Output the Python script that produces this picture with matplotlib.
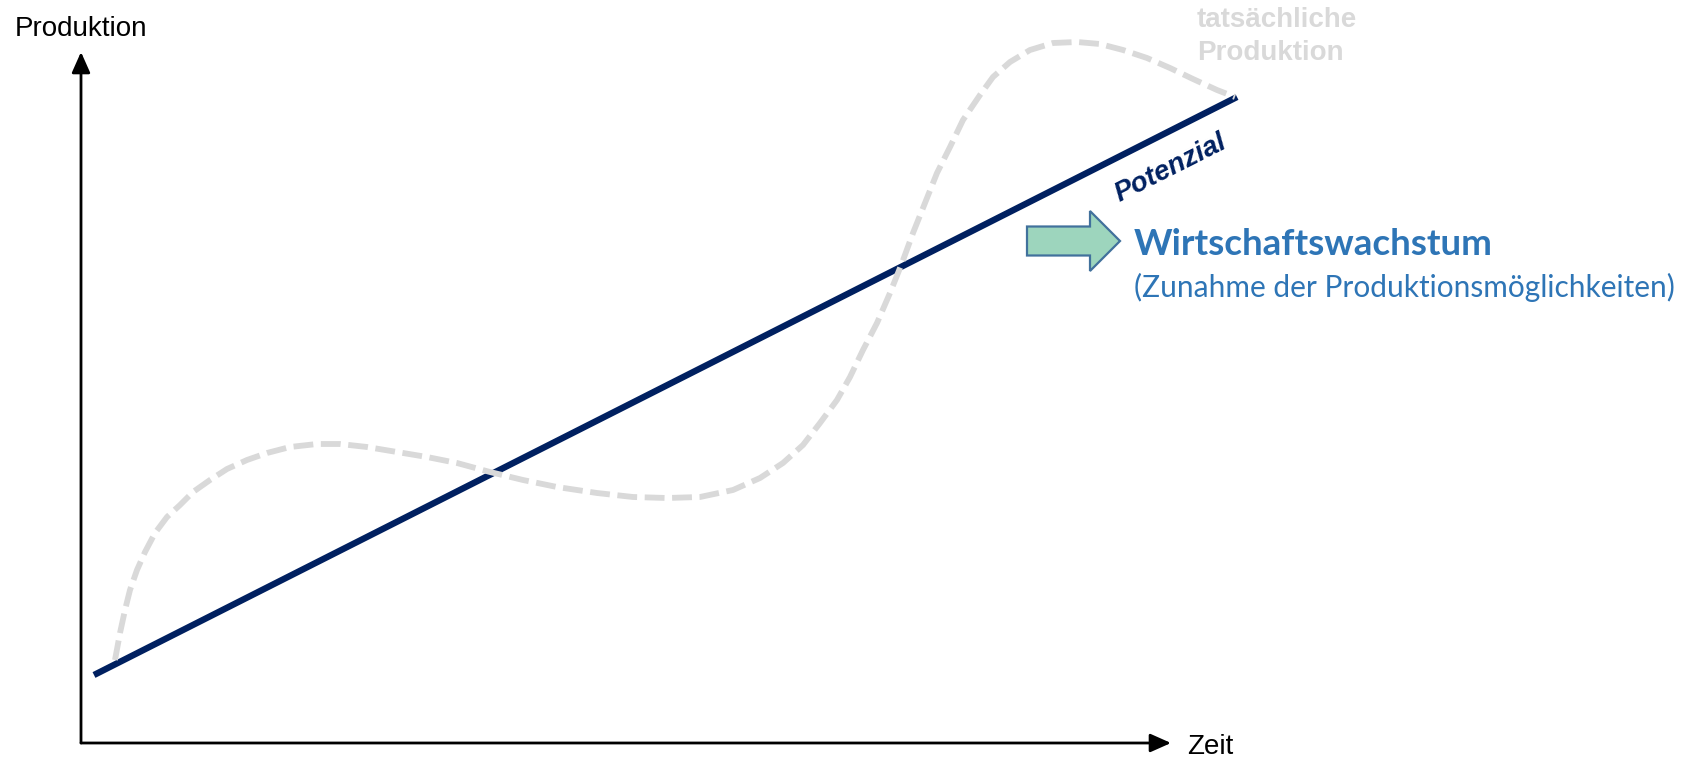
import matplotlib
matplotlib.use("Agg")
import matplotlib.pyplot as plt
import matplotlib.patches as mpatches
import numpy as np

# ---------------- data (units: 1 unit = 100 px of the reference) ----------------
# actual production (dashed grey curve)
zeit_tats = [0.34, 0.39, 0.44, 0.49, 0.56, 0.64, 0.74, 0.86, 0.99, 1.12,
             1.29, 1.46, 1.66, 1.86, 2.09, 2.36, 2.59, 2.86, 3.16, 3.46,
             3.76, 4.09, 4.42, 4.76, 5.16, 5.52, 5.86, 6.19, 6.52, 6.79,
             7.02, 7.22, 7.39, 7.56, 7.69, 7.82, 7.96, 8.09, 8.21, 8.32,
             8.44, 8.56, 8.69, 8.82, 8.99, 9.12, 9.29, 9.49, 9.72, 9.96,
             10.19, 10.42, 10.66, 10.89, 11.12, 11.36, 11.54]
prod_tats = [0.83, 1.10, 1.33, 1.53, 1.73, 1.91, 2.10, 2.26, 2.38, 2.51,
             2.63, 2.74, 2.83, 2.90, 2.96, 2.99, 2.99, 2.96, 2.91, 2.86,
             2.80, 2.71, 2.63, 2.56, 2.50, 2.46, 2.45, 2.46, 2.53, 2.65,
             2.80, 2.98, 3.20, 3.43, 3.66, 3.93, 4.20, 4.50, 4.80, 5.10,
             5.40, 5.70, 5.96, 6.23, 6.48, 6.66, 6.81, 6.93, 7.00, 7.01,
             6.99, 6.93, 6.85, 6.75, 6.64, 6.53, 6.46]
# potential output (straight navy line)
zeit_pot = [0.13, 11.56]
prod_pot = [0.68, 6.46]
# axis extents
zeit_achse = [0.0, 10.90]
prod_achse = [0.0, 6.91]

# texts
label_y = "Produktion"
label_x = "Zeit"
label_tats = ["tatsächliche", "Produktion"]
label_pot = "Potenzial"
label_wachstum = "Wirtschaftswachstum"
label_zunahme = "(Zunahme der Produktionsmöglichkeiten)"

# ---------------- styling ----------------
NAVY = "#002060"
GREY = "#D9D9D9"
BLUE = "#2E75B6"
GREEN = "#9DD5BD"
EDGE = "#41719C"
ARIAL = ["Liberation Sans", "DejaVu Sans"]
CALIBRI = ["Lato", "DejaVu Sans"]

fig = plt.figure(figsize=(16.92, 7.57), dpi=100)
ax = fig.add_axes([0, 0, 1, 1])
ax.set_xlim(-0.81, 16.11)
ax.set_ylim(-0.14, 7.43)
ax.axis("off")

# axes with arrows
arrow_kw = dict(arrowstyle="-|>,head_length=0.45,head_width=0.2", lw=2.0,
                color="black", shrinkA=0, shrinkB=0, mutation_scale=28)
ax.annotate("", xy=(zeit_achse[0], prod_achse[1]), xytext=(zeit_achse[0], prod_achse[0]),
            arrowprops=arrow_kw)
ax.annotate("", xy=(zeit_achse[1], prod_achse[0]), xytext=(zeit_achse[0], prod_achse[0]),
            arrowprops=arrow_kw)

# potential line
ax.plot(zeit_pot, prod_pot, color=NAVY, lw=4.6, solid_capstyle="butt", zorder=3)
# actual production dashed
ax.plot(zeit_tats, prod_tats, color=GREY, lw=4.2, linestyle=(0, (3.4, 1.3)),
        dash_capstyle="butt", solid_joinstyle="round", dash_joinstyle="round", zorder=4)

# labels
ax.text(-0.66, 7.07, label_y, family=ARIAL, fontsize=20, ha="left", va="baseline")
ax.text(11.06, -0.11, label_x, family=ARIAL, fontsize=20, ha="left", va="baseline")
ax.text(11.16, 7.16, label_tats[0], family=ARIAL, fontsize=20, fontweight="bold",
        color=GREY, ha="left", va="baseline")
ax.text(11.16, 6.83, label_tats[1], family=ARIAL, fontsize=20, fontweight="bold",
        color=GREY, ha="left", va="baseline")

# rotation of Potenzial label from the line itself
p0 = ax.transData.transform((zeit_pot[0], prod_pot[0]))
p1 = ax.transData.transform((zeit_pot[1], prod_pot[1]))
ang = np.degrees(np.arctan2(p1[1] - p0[1], p1[0] - p0[0]))
ax.text(10.39, 5.41, label_pot, family=ARIAL, fontsize=20, fontweight="bold",
        fontstyle="italic", color=NAVY, rotation=ang, rotation_mode="anchor",
        ha="left", va="baseline")

# block arrow
arr = mpatches.FancyArrow(9.46, 5.02, 0.93, 0.0, width=0.29, head_width=0.60,
                          head_length=0.30, length_includes_head=True,
                          facecolor=GREEN, edgecolor=EDGE, lw=1.6, zorder=5)
ax.add_patch(arr)

t1 = ax.text(10.53, 4.88, label_wachstum, family=CALIBRI, fontsize=27,
             fontweight="bold", color=BLUE, ha="left", va="baseline")
t2 = ax.text(10.53, 4.46, label_zunahme, family=CALIBRI, fontsize=23,
             color=BLUE, ha="left", va="baseline")

# fit widths to reference
fig.canvas.draw()
r = fig.canvas.get_renderer()
for t, target in ((t1, 360.0), (t2, 542.0)):
    w = t.get_window_extent(r).width
    t.set_fontsize(t.get_fontsize() * target / w)

fig.savefig("out.png", dpi=100)
